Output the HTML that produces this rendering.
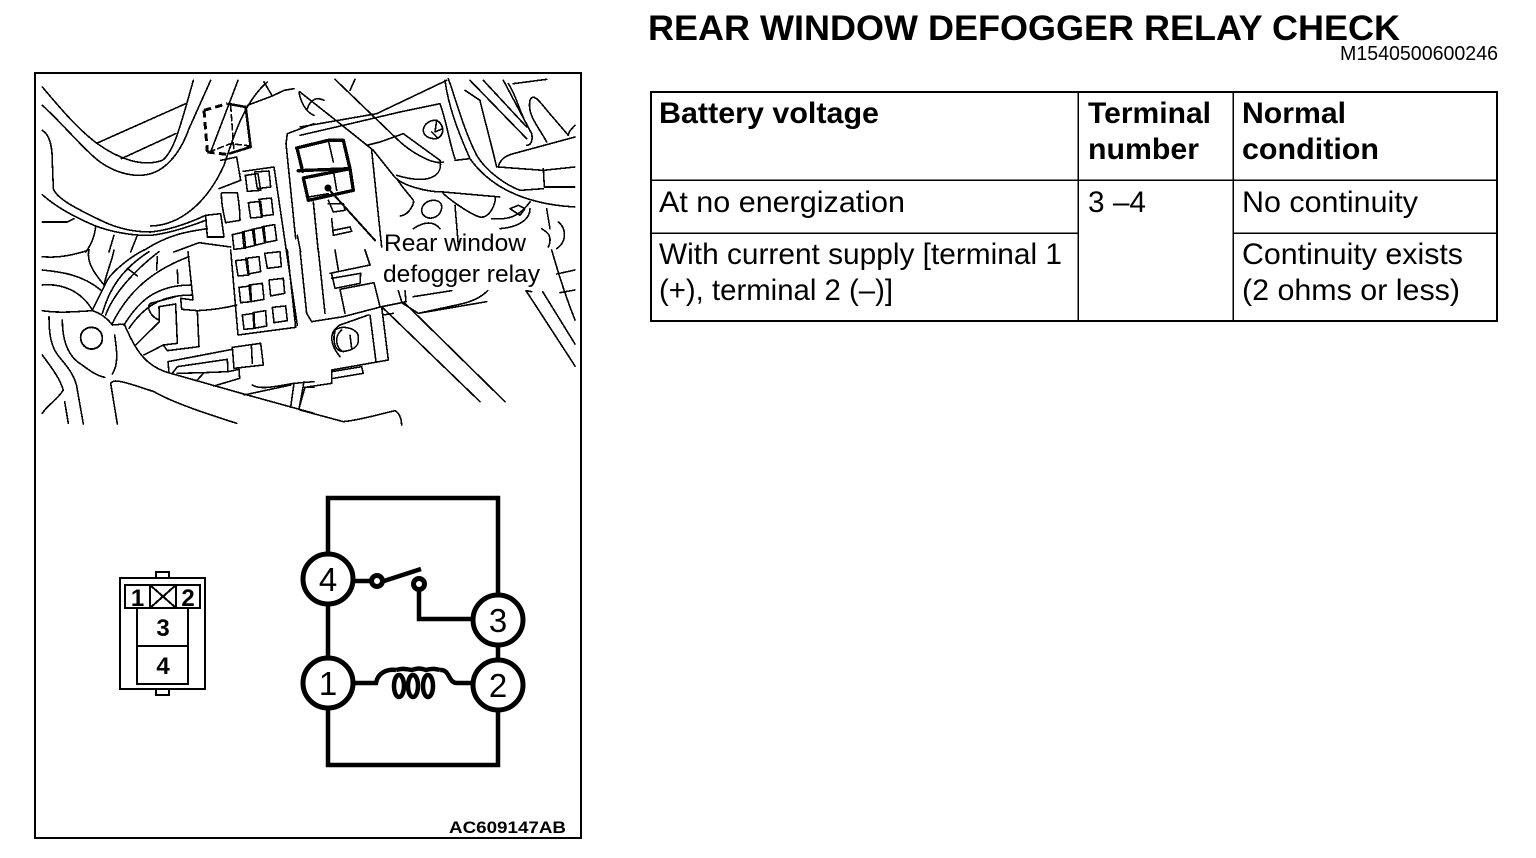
<!DOCTYPE html>
<html><head><meta charset="utf-8"><style>
html,body{margin:0;padding:0;background:#fff;width:1536px;height:858px;overflow:hidden}
svg{display:block}
text{font-family:"Liberation Sans",sans-serif;fill:#000}
.l path{fill:none;stroke:#000;stroke-width:4.8;stroke-linejoin:round;stroke-linecap:round;shape-rendering:crispEdges}
.t{font-size:29.5px}
.b{font-weight:bold}
</style></head><body>
<svg width="1536" height="858" viewBox="0 0 1536 858" xmlns="http://www.w3.org/2000/svg">
<rect x="35" y="73" width="546" height="765" fill="none" stroke="#000" stroke-width="2" shape-rendering="crispEdges"/>

<!-- top-left illustration -->
<g class="l" transform="translate(34,72) scale(.33333)">
<path d="M25,45C80,110 130,170 190,215C260,265 330,285 385,265C420,240 440,160 478,25"/>
<path d="M25,100C80,150 130,210 180,255C230,300 300,320 350,305C400,290 440,240 465,170L530,25"/>
<path d="M190,213L455,95M262,260L425,185"/>
<path d="M25,175C50,190 55,230 55,270L58,350C70,385 150,420 200,445C250,470 300,480 350,480C400,475 450,460 515,430"/>
<path d="M25,368C60,400 110,430 180,460C230,480 300,492 350,490C400,485 450,470 515,445"/>
<path d="M25,450L100,450L120,440"/>
<path d="M350,462C440,460 520,390 570,280C600,190 630,90 700,30"/>
<path d="M612,25L530,240"/>
<path d="M640,100L715,72L690,30M715,72L750,55L780,50"/>
<path d="M555,350L620,325L608,255L560,265"/>
<path d="M565,362L610,362Q618,410 618,445L575,452Q562,400 562,365Z"/>
<path d="M515,430L560,425L570,495L520,495Z"/>
<path d="M420,540L495,512L590,525"/>
<path d="M185,465C180,500 170,520 155,540M240,490L225,540M310,490L290,540M330,535C400,490 450,480 520,470"/>
<path d="M628,298L720,285L790,760"/>
<path d="M634,310L672,305L680,355L640,358ZM662,300L705,297L710,345L670,350Z"/>
<path d="M643,392L680,388L685,435L650,438ZM675,382L712,378L718,428L682,432Z"/>
<path d="M595,488L630,480L635,528L600,532ZM625,480L660,472L665,520L630,528ZM655,472L690,465L695,512L662,520ZM685,464L722,458L728,505L692,512Z"/>
<path d="M760,185L840,155M756,215L760,185M756,215L785,500"/>
<path d="M795,60C800,90 815,120 840,130"/>
<path d="M820,110C830,80 850,75 870,85"/>
<path d="M790,490L800,540"/>
<path d="M590,100L600,240M525,240L590,215L650,222" style="stroke-dasharray:18 10"/>
</g>

<g class="l" transform="translate(300,72) scale(.33333)">
<path d="M105,22L290,200C330,240 400,280 430,270"/>
<path d="M165,22L150,55"/>
<path d="M0,60L120,155L220,235L280,310C300,340 380,360 430,360L600,375"/>
<path d="M0,165L230,125L440,25"/>
<path d="M0,190L130,160L300,120L420,95C440,150 450,220 465,260"/>
<path d="M200,220L240,210L310,185L420,265C430,310 390,340 290,310"/>
<path d="M465,265L510,260C560,330 650,395 825,405"/>
<path d="M435,25C445,100 470,170 510,260"/>
<path d="M445,20C470,90 490,170 530,250C560,300 620,340 660,355L730,350"/>
<path d="M495,55L540,85C550,130 570,200 590,285"/>
<path d="M510,25L680,200M550,25L680,165M610,25L695,185C700,210 690,220 680,220"/>
<path d="M625,35C650,70 660,130 690,175M640,35L740,22"/>
<path d="M690,85C700,60 720,90 745,120L805,190"/>
<path d="M690,85C680,130 720,170 740,210"/>
<path d="M595,285C600,260 620,250 640,245L825,195"/>
<path d="M595,285L730,295L825,285M730,290L733,345L825,345"/>
<path d="M825,160C815,170 805,180 805,190"/>
<path d="M405,145C385,145 370,160 370,175C370,190 385,200 405,200C420,200 430,185 428,170C425,155 415,145 405,145Z"/>
<path d="M395,180L410,195M410,145L405,180L428,170"/>
<path d="M400,385C380,385 365,400 365,415C365,430 380,440 395,438C415,435 425,420 425,405C425,392 415,385 400,385Z"/>
<path d="M430,365C470,400 520,430 540,435C570,440 590,390 585,375"/>
<path d="M630,410L655,400L675,410L660,430Z"/>
<path d="M290,320C330,380 345,380 340,395C330,420 315,430 300,432"/>
<path d="M340,470C370,450 400,445 420,470"/>
<path d="M465,400L475,520"/>
<path d="M575,440C630,445 660,430 690,390M690,410C690,440 660,465 600,470"/>
<path d="M740,410L750,470"/>
<path d="M725,470C740,480 760,490 745,525M775,450C800,470 800,510 770,530"/>
<path d="M215,235L245,525"/>
<path d="M40,390L55,540M85,385L100,420L135,415L130,395L85,395M95,440L100,490L155,478L150,465L100,475"/>
</g>

<g class="l">
<g transform="translate(300,72) scale(.33333)">
<path d="M-10,228L85,205L130,205L150,290L-5,296" style="stroke-width:10"/>
<path d="M10,318L150,290L160,355L25,385Z" style="stroke-width:10"/>
<path d="M85,205L100,270M100,295L110,355M25,375L85,365"/>
<path d="M85,350L225,505" style="stroke-width:6"/>
</g>
</g>
<circle cx="328" cy="188" r="3.500" fill="#000"/>

<g class="l" transform="translate(34,72) scale(.33333)">
<path d="M790,232L806,298" style="stroke-width:10"/>
<path d="M510,115L520,240M520,240L585,248M510,115L580,95" style="stroke-width:9;stroke-dasharray:22 13;stroke-linecap:butt"/>
<path d="M580,95L635,105L650,225L585,245" style="stroke-width:7.500;stroke-linecap:butt"/>
</g>

<g class="l" transform="translate(34,250) scale(.33333)">
<path d="M25,20C70,25 120,15 165,0"/>
<path d="M25,60C70,65 140,70 200,120"/>
<path d="M25,105C80,100 140,120 175,180"/>
<path d="M25,182C70,190 130,185 175,182C200,190 220,205 235,225L272,222"/>
<path d="M165,0C155,40 190,80 210,105C220,60 235,30 240,0"/>
<path d="M175,180L220,90C240,60 290,20 330,0M205,190C225,120 260,60 345,5M215,195C235,140 290,70 375,5"/>
<path d="M235,220C270,150 330,70 465,20M270,225C310,160 360,105 472,105M285,235C330,170 380,135 476,135"/>
<path d="M280,55L310,78M370,20L368,60M430,60L432,100"/>
<path d="M462,5L477,150L440,145L443,178L490,182C530,180 570,175 608,165"/>
<path d="M490,182L495,290L400,302L388,285L330,315"/>
<path d="M375,170L425,162L430,280L388,285M375,170L376,215L305,285M375,210C350,200 335,170 350,160L425,140"/>
<path d="M272,225C300,290 330,350 410,370L640,435L840,490"/>
<path d="M590,0L612,255L785,232L760,0"/>
<path d="M605,32L640,28L645,75L612,78ZM635,25L675,20L680,65L642,72Z"/>
<path d="M692,10L738,5L742,50L700,55Z"/>
<path d="M615,112L650,108L652,155L620,158ZM645,105L685,100L690,148L650,155Z"/>
<path d="M705,90L748,85L752,130L710,138Z"/>
<path d="M625,195L660,190L662,235L630,238ZM657,188L695,182L698,228L660,235Z"/>
<path d="M715,172L755,168L760,212L720,218Z"/>
<path d="M45,200C45,250 50,290 75,320C95,345 125,375 130,420L148,522"/>
<path d="M85,210C85,270 100,310 130,335C160,355 180,375 212,382"/>
<path d="M25,315C50,350 75,380 88,420C70,450 40,465 25,490"/>
<path d="M92,455L103,520"/>
<path d="M242,255C248,300 255,340 235,372"/>
<path d="M230,400C240,385 270,395 360,425C420,460 530,495 608,520"/>
<path d="M230,400L250,522"/>
<path d="M140,262C140,245 155,232 172,232C192,232 205,248 205,265C205,285 190,297 172,297C155,297 140,282 140,262Z" style="stroke-width:5.500"/>
<path d="M595,292L680,280L688,345L600,355Z"/>
<path d="M652,285L655,340"/>
<path d="M595,298L402,335L405,368M415,370L430,350L580,328L582,365L510,368L490,390M430,370L510,368M582,365L615,358L617,385L540,408"/>
<path d="M655,405C680,420 720,410 780,400L770,472M810,395L795,478M780,400L840,395M810,412L840,412M630,435L770,405"/>
</g>

<g class="l" transform="translate(300,250) scale(.33333)">
<path d="M0,0L20,190L35,215L130,200L245,170L305,158L355,190L560,155"/>
<path d="M55,0L75,190M105,0L115,60M195,0L210,45L90,70M95,72L105,115L180,100L182,70L95,85"/>
<path d="M120,118L222,98L240,170M120,118L135,190"/>
<path d="M245,170L265,330L95,360L95,400L15,412L0,465M210,195L228,335M250,195L280,190"/>
<path d="M120,320C95,290 80,250 120,225L205,195"/>
<path d="M100,250C105,220 180,230 175,265C180,300 130,310 115,300C100,290 100,260 105,245Z"/>
<path d="M125,240C100,260 110,300 130,305M150,255L155,295"/>
<path d="M95,365L185,350L190,370L100,385"/>
<path d="M0,480L130,515C180,510 230,495 285,482C300,490 305,510 305,525"/>
<path d="M295,122L305,155M315,122L318,155L305,158M340,140L455,122"/>
<path d="M355,190L470,165C520,155 545,140 563,122"/>
<path d="M245,170L540,455M315,160L615,455"/>
<path d="M678,122L695,148L825,348M678,122L695,125M728,125L825,282"/>
<path d="M755,0C770,50 785,110 825,210M770,72L825,60M780,128L825,120"/>
</g>

<!-- connector -->
<g fill="none" stroke="#000" stroke-width="2" shape-rendering="crispEdges">
<rect x="120" y="578" width="85" height="111"/>
<rect x="156" y="572" width="13" height="6"/>
<rect x="156" y="689" width="13" height="6"/>
<rect x="125" y="585" width="75" height="23"/>
<path d="M150,585V608M176,585V608M150,585L176,608M176,585L150,608"/>
<rect x="137" y="608" width="51" height="76"/>
<path d="M137,646H188"/>
</g>
<g style="font-size:24px;font-weight:bold" text-anchor="middle">
<text x="137.500" y="606">1</text>
<text x="188" y="606">2</text>
<text x="163" y="636">3</text>
<text x="163" y="674">4</text>
</g>

<!-- circuit -->
<g fill="none" stroke="#000" stroke-width="4.500">
<path d="M328,579V498H498V620M498,685V765H328V683M328,579V683"/>
<path d="M498,620V685"/>
<path d="M353,581H372M384,581L421,569"/>
<path d="M419,590V619H474"/>
<path d="M353,683H376C378,672 388,669 396,670M440,670C450,669 448,683 457,683H474"/>
<path d="M396,670C404,668 404,669 412,670C418,668 420,668 426,670C432,668 436,669 440,670"/>
<ellipse cx="399" cy="686" rx="5" ry="11"/>
<ellipse cx="413" cy="686" rx="5" ry="11"/>
<ellipse cx="428" cy="686" rx="5" ry="11"/>
</g>
<g fill="#fff" stroke="#000" stroke-width="5">
<circle cx="328" cy="579" r="25"/>
<circle cx="498" cy="620" r="25"/>
<circle cx="328" cy="683" r="25"/>
<circle cx="498" cy="685" r="25"/>
<circle cx="377" cy="581" r="5.500"/>
<circle cx="419" cy="584" r="5.500"/>
</g>
<g text-anchor="middle" style="font-size:33px">
<text x="328" y="591">4</text>
<text x="498" y="632">3</text>
<text x="328" y="695">1</text>
<text x="498" y="697">2</text>
</g>

<text x="384" y="251" style="font-size:24px" textLength="142" lengthAdjust="spacingAndGlyphs">Rear window</text>
<text x="383" y="282" style="font-size:24px" textLength="157" lengthAdjust="spacingAndGlyphs">defogger relay</text>
<text x="449" y="833" class="b" style="font-size:17px" textLength="117" lengthAdjust="spacingAndGlyphs">AC609147AB</text>

<!-- right -->
<text x="648" y="40" class="b" style="font-size:35px" textLength="752" lengthAdjust="spacingAndGlyphs">REAR WINDOW DEFOGGER RELAY CHECK</text>
<text x="1340" y="60" style="font-size:20px" textLength="158" lengthAdjust="spacingAndGlyphs">M1540500600246</text>

<g fill="none" stroke="#000" shape-rendering="crispEdges">
<rect x="651" y="92" width="846" height="229" stroke-width="2"/>
<path d="M1078,92V321M1233,92V321M651,180H1497M651,233H1078M1233,233H1497" stroke-width="1.500"/>
</g>
<g class="t">
<text x="659" y="123" class="b" textLength="220" lengthAdjust="spacingAndGlyphs">Battery voltage</text>
<text x="1088" y="123" class="b" textLength="123" lengthAdjust="spacingAndGlyphs">Terminal</text>
<text x="1088" y="159" class="b" textLength="111" lengthAdjust="spacingAndGlyphs">number</text>
<text x="1242" y="123" class="b" textLength="104" lengthAdjust="spacingAndGlyphs">Normal</text>
<text x="1242" y="159" class="b" textLength="137" lengthAdjust="spacingAndGlyphs">condition</text>
<text x="659" y="212" textLength="246" lengthAdjust="spacingAndGlyphs">At no energization</text>
<text x="1088" y="212" textLength="58" lengthAdjust="spacingAndGlyphs">3 –4</text>
<text x="1242" y="212" textLength="176" lengthAdjust="spacingAndGlyphs">No continuity</text>
<text x="659" y="264" textLength="403" lengthAdjust="spacingAndGlyphs">With current supply [terminal 1</text>
<text x="659" y="300" textLength="234" lengthAdjust="spacingAndGlyphs">(+), terminal 2 (–)]</text>
<text x="1242" y="264" textLength="221" lengthAdjust="spacingAndGlyphs">Continuity exists</text>
<text x="1242" y="300" textLength="218" lengthAdjust="spacingAndGlyphs">(2 ohms or less)</text>
</g>
</svg>
</body></html>
